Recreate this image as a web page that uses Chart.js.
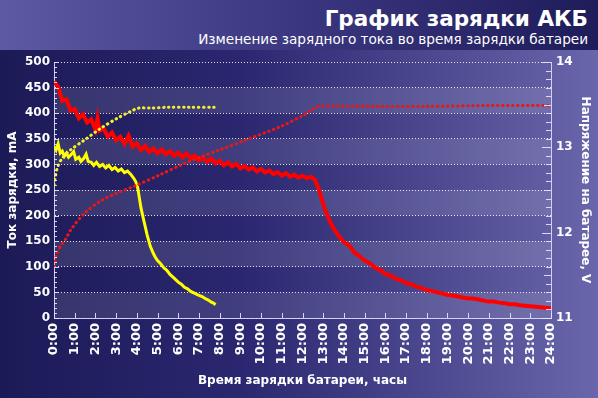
<!DOCTYPE html>
<html lang="ru">
<head>
<meta charset="utf-8">
<script src="https://cdn.jsdelivr.net/npm/chart.js@4"></script>
<style>
  html, body { margin: 0; padding: 0; }
  body {
    width: 598px; height: 398px; overflow: hidden; position: relative;
    background: linear-gradient(to right, #1c1a56 0%, #2a2770 40%, #6a66ab 100%);
    font-family: "DejaVu Sans", Verdana, sans-serif;
  }
  #header {
    position: absolute; left: 0; top: 0; width: 598px; height: 50px;
    background: linear-gradient(to right, #5d5aa3 0%, #3a3780 50%, #1f1c5b 100%);
  }
  #title {
    position: absolute; right: 10px; top: 6px;
    color: #fff; font-weight: bold; font-size: 21.5px; white-space: nowrap;
  }
  #subtitle {
    position: absolute; right: 10px; top: 31px;
    color: #fff; font-size: 13.6px; white-space: nowrap;
  }
  #wrap { position: absolute; left: 0; top: 0; width: 598px; height: 398px; }
</style>
</head>
<body>
<div id="header">
  <div id="title">График зарядки АКБ</div>
  <div id="subtitle">Изменение зарядного тока во время зарядки батареи</div>
</div>
<div id="wrap"><canvas id="chart"></canvas></div>
<script>
// подписи часов по оси X
const hourLabels = ['0:00', '1:00', '2:00', '3:00', '4:00', '5:00', '6:00', '7:00', '8:00', '9:00',
    '10:00', '11:00', '12:00', '13:00', '14:00', '15:00', '16:00', '17:00', '18:00', '19:00',
    '20:00', '21:00', '22:00', '23:00', '24:00'];

// ток зарядки, красный (mA)
const redCurHours = [0, 0.2, 0.4, 0.6, 0.8, 1, 1.2, 1.4, 1.6, 1.8, 2, 2.1, 2.2, 2.4, 2.6, 2.8, 3, 3.2, 3.4, 3.6,
    3.8, 4, 4.2, 4.4, 4.6, 4.8, 5, 5.2, 5.4, 5.6, 5.8, 6, 6.2, 6.4, 6.6, 6.8, 7, 7.2, 7.4, 7.6, 7.8, 8, 8.2, 8.4,
    8.6, 8.8, 9, 9.2, 9.4, 9.6, 9.8, 10, 10.2, 10.4, 10.6, 10.8, 11, 11.2, 11.4, 11.6, 11.8, 12, 12.2, 12.4, 12.6,
    12.8, 13, 13.25, 13.5, 13.75, 14, 14.25, 14.5, 14.75, 15, 15.25, 15.5, 15.75, 16, 16.25, 16.5, 16.75, 17,
    17.25, 17.5, 17.75, 18, 18.25, 18.5, 18.75, 19, 19.25, 19.5, 19.75, 20, 20.25, 20.5, 20.75, 21, 21.25, 21.5,
    21.75, 22, 22.25, 22.5, 22.75, 23, 23.25, 23.5, 23.75, 24];
const redCurValues = [462, 452, 424, 427, 405, 408, 390, 398, 382, 388, 368, 390, 366, 370, 354, 362, 347, 354,
    340, 356, 335, 341, 328, 336, 324, 331, 322, 329, 320, 326, 317, 323, 314, 321, 312, 317, 308, 313, 305, 311,
    302, 307, 298, 304, 296, 301, 292, 297, 290, 294, 286, 291, 284, 288, 281, 285, 278, 283, 276, 280, 274, 278,
    273, 276, 270, 250, 222, 195, 175, 160, 148, 142, 128, 121, 112, 107, 98, 94, 86, 83, 77, 74, 68, 66, 61, 59,
    54, 53, 50, 48, 45, 44, 42, 40, 38, 38, 36, 34, 32, 32, 30, 29, 27, 27, 25, 24, 23, 22, 21, 20, 19];

// ток зарядки, жёлтый (mA)
const yelCurHours = [0, 0.1, 0.2, 0.3, 0.4, 0.5, 0.6, 0.7, 0.8, 0.95, 1.05, 1.2, 1.3, 1.44, 1.55, 1.65, 1.8, 1.92,
    2.05, 2.2, 2.35, 2.5, 2.65, 2.8, 2.95, 3.1, 3.25, 3.4, 3.55, 3.7, 3.85, 3.95, 4.04, 4.1, 4.2, 4.35, 4.5, 4.65,
    4.8, 4.9, 5, 5.15, 5.3, 5.45, 5.6, 5.8, 6, 6.15, 6.3, 6.45, 6.6, 6.8, 7, 7.15, 7.3, 7.45, 7.6, 7.7, 7.8];
const yelCurValues = [335, 328, 340, 322, 326, 316, 322, 314, 318, 325, 310, 314, 306, 312, 320, 306, 304, 298,
    304, 296, 300, 293, 298, 290, 294, 287, 291, 284, 287, 281, 273, 266, 255, 240, 215, 188, 162, 140, 126, 118,
    112, 106, 98, 93, 85, 78, 70, 66, 60, 57, 52, 48, 44, 42, 38, 35, 31, 29, 26];

// напряжение, красный (V)
const redVoltHours = [0, 0.1, 0.3, 0.55, 0.8, 1.44, 2.24, 3, 3.93, 5.13, 6.1, 7, 8, 9.3, 10.9, 12, 12.5, 12.75,
    15, 18, 21, 24];
const redVoltValues = [11.60, 11.72, 11.84, 11.92, 12.03, 12.22, 12.37, 12.46, 12.55, 12.68, 12.79, 12.88, 12.97,
    13.09, 13.24, 13.37, 13.45, 13.48, 13.48, 13.48, 13.49, 13.49];

// напряжение, жёлтый (V)
const yelVoltHours = [0, 0.15, 0.39, 0.8, 1.44, 2.24, 3.05, 3.69, 4.09, 4.65, 5.5, 6.5, 7.8];
const yelVoltValues = [12.56, 12.75, 12.87, 12.97, 13.08, 13.22, 13.34, 13.42, 13.46, 13.46, 13.47, 13.47, 13.47];

const FONT = 'DejaVu Sans';

function points(xs, ys) {
    return xs.map((x, i) => ({ x: x, y: ys[i] }));
}

// полосы фона в области графика
const bandsPlugin = {
    id: 'bands',
    beforeDraw(chart) {
        const { ctx, chartArea, scales } = chart;
        const y = scales.y;
        ctx.save();
        ctx.fillStyle = 'rgba(255,255,255,0.11)';
        for (let v = 0; v < 500; v += 100) {
            const top = y.getPixelForValue(v + 50);
            const bottom = y.getPixelForValue(v);
            ctx.fillRect(chartArea.left, top, chartArea.right - chartArea.left, bottom - top);
        }
        ctx.restore();
    }
};

// короткие засечки внутри области графика
const innerTicksPlugin = {
    id: 'innerTicks',
    afterDraw(chart) {
        const { ctx, chartArea, scales } = chart;
        ctx.save();
        ctx.strokeStyle = 'rgba(230,230,255,0.9)';
        ctx.lineWidth = 1;
        ctx.beginPath();
        for (let v = 0; v <= 500; v += 10) {
            const py = Math.round(scales.y.getPixelForValue(v)) + 0.5;
            const len = v % 50 === 0 ? 5 : 3;
            ctx.moveTo(chartArea.left, py);
            ctx.lineTo(chartArea.left + len, py);
        }
        for (let i = 0; i <= 30; i++) {
            const py = Math.round(scales.y1.getPixelForValue(11 + i / 10)) + 0.5;
            const len = i % 10 === 0 ? 9 : (i % 5 === 0 ? 7 : 5);
            ctx.moveTo(chartArea.right, py);
            ctx.lineTo(chartArea.right - len, py);
        }
        for (let h = 0; h <= 24; h++) {
            const px = Math.round(scales.x.getPixelForValue(h)) + 0.5;
            ctx.moveTo(px, chartArea.bottom);
            ctx.lineTo(px, chartArea.bottom - 5);
        }
        ctx.stroke();
        ctx.restore();
    }
};

const ctx = document.getElementById('chart').getContext('2d');
new Chart(ctx, {
    type: 'line',
    data: {
        datasets: [
            {
                label: 'Напряжение (красный)',
                data: points(redVoltHours, redVoltValues),
                yAxisID: 'y1',
                borderColor: '#e81818',
                borderWidth: 3,
                borderDash: [0.5, 4.5],
                borderCapStyle: 'round',
                pointRadius: 0,
                tension: 0.3
            },
            {
                label: 'Напряжение (жёлтый)',
                data: points(yelVoltHours, yelVoltValues),
                yAxisID: 'y1',
                borderColor: '#f4f030',
                borderWidth: 3,
                borderDash: [0.5, 4.5],
                borderCapStyle: 'round',
                pointRadius: 0,
                tension: 0.3
            },
            {
                label: 'Ток (жёлтый)',
                data: points(yelCurHours, yelCurValues),
                yAxisID: 'y',
                borderColor: '#ffff00',
                borderWidth: 3,
                pointRadius: 0,
                tension: 0
            },
            {
                label: 'Ток (красный)',
                data: points(redCurHours, redCurValues),
                yAxisID: 'y',
                borderColor: '#ff0000',
                borderWidth: 4,
                pointRadius: 0,
                tension: 0
            }
        ]
    },
    options: {
        responsive: true,
        maintainAspectRatio: false,
        animation: false,
        layout: { padding: { top: 62, left: 0, right: 0, bottom: 0 } },
        plugins: {
            legend: { display: false },
            tooltip: { enabled: false }
        },
        scales: {
            x: {
                type: 'linear',
                min: 0,
                max: 24,
                afterFit: function (scale) { scale.height = 80; },
                grid: { display: false, drawTicks: false },
                border: { display: true, color: 'rgba(220,220,255,0.9)', width: 1 },
                ticks: {
                    stepSize: 1,
                    autoSkip: false,
                    maxRotation: 90,
                    minRotation: 90,
                    padding: 5,
                    color: '#ffffff',
                    font: { family: FONT, size: 13, weight: 'bold' },
                    callback: function (value) { return hourLabels[value]; }
                },
                title: {
                    display: true,
                    text: 'Время зарядки батареи, часы',
                    color: '#ffffff',
                    font: { family: FONT, size: 12, weight: 'bold' },
                    padding: { top: 0, bottom: 10 }
                }
            },
            y: {
                position: 'left',
                min: 0,
                max: 500,
                afterFit: function (scale) { scale.width = 54; },
                grid: { color: 'rgba(255,255,255,0.85)', lineWidth: 1, drawTicks: false },
                border: { display: true, color: 'rgba(220,220,255,0.9)', width: 1, dash: [1, 2] },
                ticks: {
                    stepSize: 50,
                    padding: 4,
                    color: '#ffffff',
                    font: { family: FONT, size: 12, weight: 'bold' }
                },
                title: {
                    display: true,
                    text: 'Ток зарядки, mA',
                    color: '#ffffff',
                    font: { family: FONT, size: 12, weight: 'bold' },
                    padding: { top: 6, bottom: 0 }
                }
            },
            y1: {
                position: 'right',
                min: 11,
                max: 14,
                afterFit: function (scale) { scale.width = 47; },
                grid: { display: false, drawTicks: false },
                border: { display: true, color: 'rgba(220,220,255,0.9)', width: 1 },
                ticks: {
                    stepSize: 1,
                    padding: 5,
                    color: '#ffffff',
                    font: { family: FONT, size: 12, weight: 'bold' }
                },
                title: {
                    display: true,
                    text: 'Напряжение на батарее, V',
                    color: '#ffffff',
                    font: { family: FONT, size: 12, weight: 'bold' },
                    padding: { top: 6, bottom: 0 }
                }
            }
        }
    },
    plugins: [bandsPlugin, innerTicksPlugin]
});
</script>
</body>
</html>
